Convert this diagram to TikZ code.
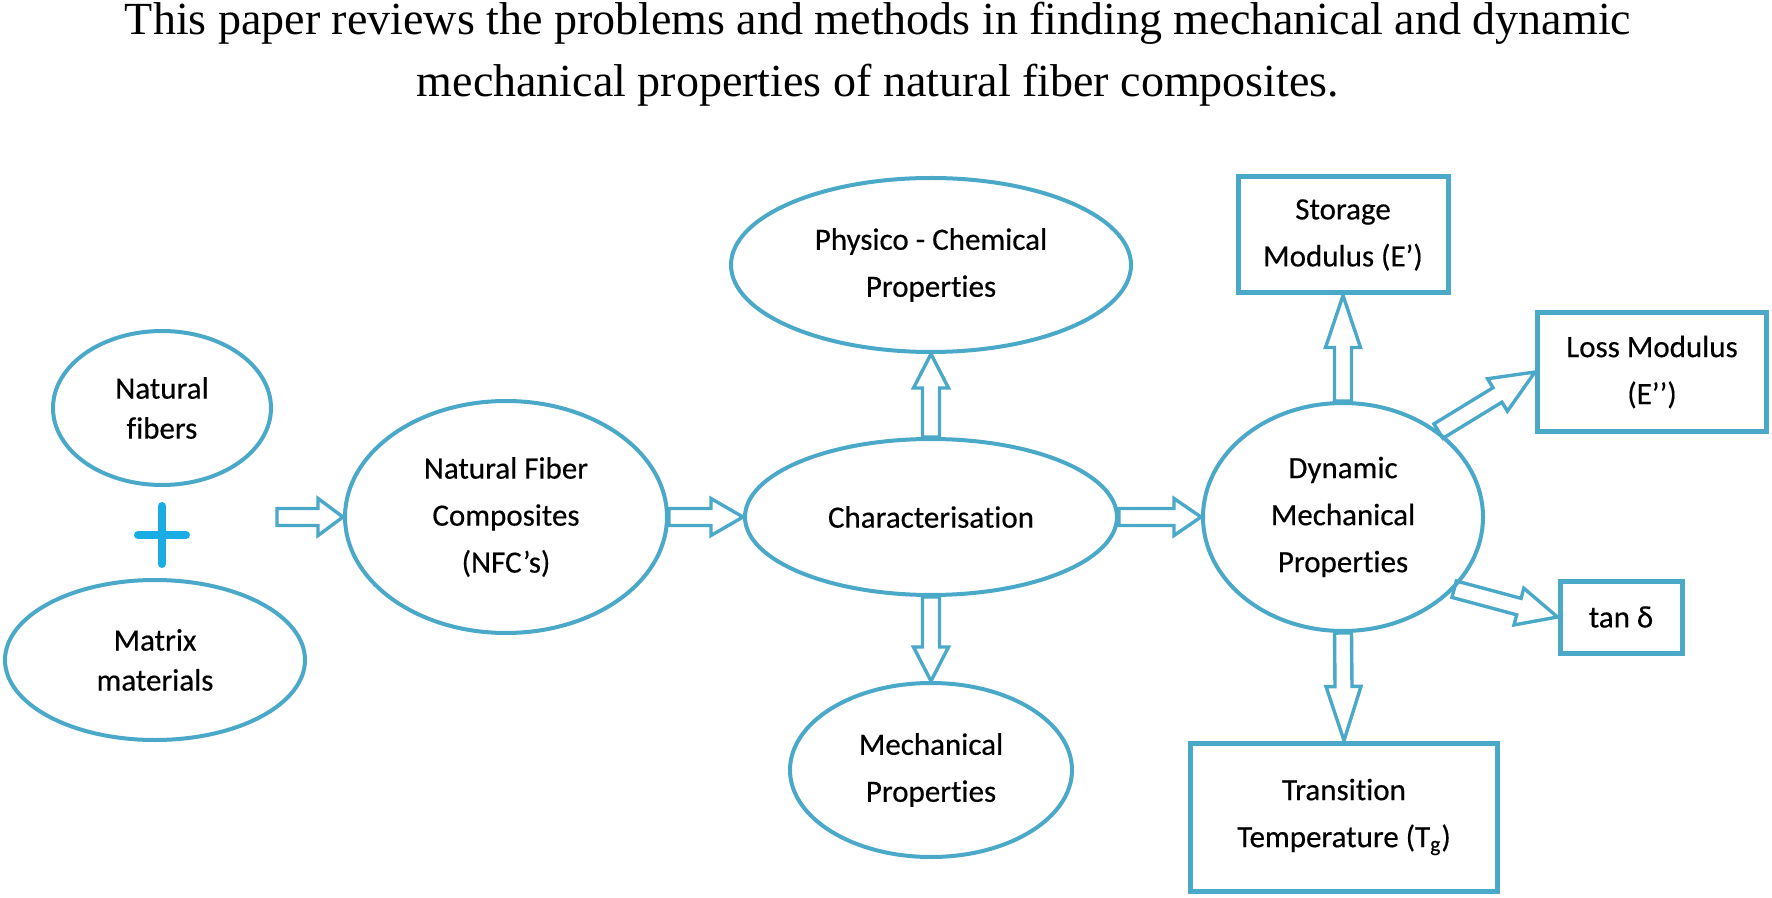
\documentclass[tikz,border=0pt]{standalone}
\usepackage{fontspec}
\setmainfont{Liberation Serif}
\newfontfamily\calib[Ligatures=NoCommon,FakeBold=0.4]{Carlito}
\usetikzlibrary{calc,shapes.geometric}
\definecolor{tealline}{HTML}{4AA8C8}
\definecolor{plusblue}{HTML}{1AADE4}
% hollow block arrow: #1 tail, #2 tip, #3 shaft half width, #4 head half width, #5 head length
\newcommand\hollowarrow[5]{%
  \draw[arrowline]
    ($(#1)!#3!90:(#2)$)
    -- ($($(#2)!#5!(#1)$)!#3!-90:(#1)$)
    -- ($($(#2)!#5!(#1)$)!#4!-90:(#1)$)
    -- (#2)
    -- ($($(#2)!#5!(#1)$)!#4!90:(#1)$)
    -- ($($(#2)!#5!(#1)$)!#3!90:(#1)$)
    -- ($(#1)!#3!-90:(#2)$)
    -- cycle;}
\begin{document}
\begin{tikzpicture}[x=0.5pt,y=-0.5pt,
  nodefont/.style={font=\calib\fontsize{15.5}{23.5}\selectfont},
  ell/.style={ellipse, draw=tealline, line width=2pt, nodefont, align=center, inner sep=0pt},
  box/.style={rectangle, draw=tealline, line width=2.5pt, nodefont, align=center, inner sep=0pt},
  arrowline/.style={draw=tealline, line width=1.7pt, line join=miter},
  titletext/.style={font=\fontsize{23}{28}\selectfont, anchor=base, inner sep=0pt},
  plusbar/.style={draw=plusblue, line width=4pt, line cap=round}]

\useasboundingbox[fill=white] (0,0) rectangle (1772,898);

% title
\node[titletext] (t1) at (878,35) {This paper reviews the problems and methods in finding mechanical and dynamic};
\node[titletext] (t2) at (878,97) {mechanical properties of natural fiber composites.};

% ellipses
\node[ell, minimum width=109pt, minimum height=77pt, font=\calib\fontsize{15.5}{20}\selectfont] (nf) at (162,408) {Natural\\fibers};
\node[ell, minimum width=150pt, minimum height=80pt, font=\calib\fontsize{15.5}{20}\selectfont] (mm) at (155,660) {Matrix\\materials};
\node[ell, minimum width=161pt, minimum height=116pt] (nfc) at (506,517) {Natural Fiber\\Composites\\(NFC’s)};
\node[ell, minimum width=186pt, minimum height=78pt] (char) at (931,517) {Characterisation};
\node[ell, minimum width=200pt, minimum height=87pt] (phys) at (931,265) {Physico - Chemical\\Properties};
\node[ell, minimum width=141pt, minimum height=87pt] (mech) at (931,770) {Mechanical\\Properties};
\node[ell, minimum width=140pt, minimum height=114pt] (dmp) at (1343,517) {Dynamic\\Mechanical\\Properties};

% boxes
\node[box, minimum width=105pt, minimum height=58pt] (stor) at (1343,235) {Storage\\Modulus (E’)};
\node[box, minimum width=114.5pt, minimum height=59.5pt] (loss) at (1652,372) {Loss Modulus\\(E’’)};
\node[box, minimum width=61pt, minimum height=36pt] (tan) at (1621,617) {tan δ};
\node[box, minimum width=153.5pt, minimum height=74pt] (trans) at (1344,817) {Transition\\Temperature (T\textsubscript{g})};

% plus sign
\coordinate (plus) at (162,535);
\draw[plusbar] ($(plus)+(-24,0)$) -- ($(plus)+(24,0)$);
\draw[plusbar] ($(plus)+(0,-29)$) -- ($(plus)+(0,29)$);

% arrows
\coordinate (a1s) at (277,517);
\hollowarrow{a1s}{nfc.west}{4.25pt}{9.25pt}{12.5pt}
\hollowarrow{nfc.east}{char.west}{4.25pt}{9.25pt}{16pt}
\hollowarrow{char.east}{dmp.west}{4.25pt}{9.25pt}{13.5pt}
\hollowarrow{char.north}{phys.south}{4.25pt}{8.75pt}{17pt}
\hollowarrow{char.south}{mech.north}{4.25pt}{8.75pt}{17pt}
\hollowarrow{dmp.north}{stor.south}{4.25pt}{8.75pt}{26pt}
\hollowarrow{dmp.south}{trans.north}{4.25pt}{8.75pt}{27pt}
\hollowarrow{dmp.42}{loss.west}{4.25pt}{9.5pt}{22pt}
\hollowarrow{dmp.-33}{tan.west}{4.25pt}{9.5pt}{20pt}
\end{tikzpicture}
\end{document}
